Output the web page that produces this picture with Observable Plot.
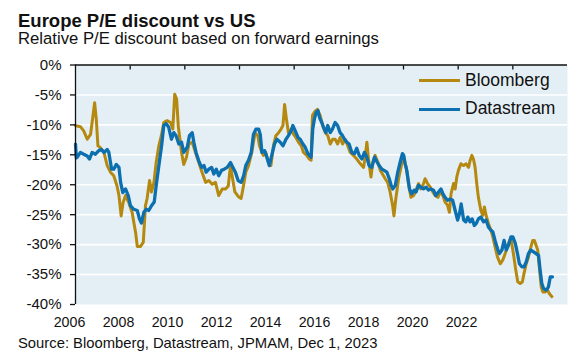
<!DOCTYPE html>
<html><head><meta charset="utf-8">
<script src="https://cdn.jsdelivr.net/npm/d3@7"></script>
<script src="https://cdn.jsdelivr.net/npm/@observablehq/plot@0.6"></script>
<style>
body{margin:0;background:#fff;font-family:"Liberation Sans",Arial,sans-serif;color:#111;}
#wrap{position:relative;width:578px;height:357px;overflow:hidden;}
.t{position:absolute;left:18px;line-height:1;white-space:nowrap;}
#title{top:11.6px;font-size:18.5px;font-weight:bold;}
#sub{top:30.6px;font-size:16.7px;}
#src{top:335.5px;font-size:14.8px;}
#chart{position:absolute;left:0;top:50px;}
#years{position:absolute;left:0;top:308px;}
.sw{position:absolute;left:419px;width:41px;height:3px;}
.lt{position:absolute;left:465px;font-size:17.5px;line-height:1;white-space:nowrap;}
</style></head>
<body>
<div id="wrap">
  <div id="title" class="t">Europe P/E discount vs US</div>
  <div id="sub" class="t">Relative P/E discount based on forward earnings</div>
  <div id="chart"></div>
  <div id="years"></div>
  <div id="legend"></div>
  <div id="src" class="t">Source: Bloomberg, Datastream, JPMAM, Dec 1, 2023</div>
</div>
<script>
const seriesNames = ["Bloomberg", "Datastream"];
const seriesColors = ["#b5890f", "#0b6fb0"];
const yTicks = [0, -5, -10, -15, -20, -25, -30, -35, -40];
const gridTicks = [-5, -10, -15, -20, -25, -30, -35];
const topTicks = [2008, 2010, 2012, 2014, 2016, 2018, 2020, 2022];
const yearLabels = ["2006", "2008", "2010", "2012", "2014", "2016", "2018", "2020", "2022"];

const bloombergDates = [2006.00,2006.06,2006.18,2006.30,2006.43,2006.55,2006.63,2006.70,2006.76,2006.82,2006.91,2007.04,2007.16,2007.28,2007.40,2007.52,2007.59,2007.67,2007.74,2007.83,2007.95,2008.07,2008.20,2008.26,2008.38,2008.48,2008.56,2008.62,2008.71,2008.78,2008.87,2008.95,2009.05,2009.15,2009.23,2009.35,2009.48,2009.56,2009.63,2009.70,2009.76,2009.82,2009.88,2009.96,2010.06,2010.15,2010.27,2010.39,2010.51,2010.63,2010.76,2010.88,2011.00,2011.12,2011.24,2011.37,2011.49,2011.59,2011.67,2011.73,2011.83,2011.96,2012.06,2012.15,2012.23,2012.33,2012.45,2012.57,2012.67,2012.73,2012.82,2012.88,2012.96,2013.06,2013.15,2013.24,2013.33,2013.43,2013.52,2013.59,2013.65,2013.71,2013.79,2013.89,2013.98,2014.06,2014.16,2014.26,2014.34,2014.46,2014.55,2014.62,2014.67,2014.77,2014.85,2014.95,2015.04,2015.14,2015.23,2015.32,2015.41,2015.50,2015.59,2015.68,2015.77,2015.87,2015.96,2016.05,2016.17,2016.29,2016.42,2016.54,2016.60,2016.66,2016.72,2016.81,2016.88,2016.96,2017.06,2017.15,2017.23,2017.33,2017.42,2017.51,2017.60,2017.65,2017.72,2017.82,2017.92,2018.00,2018.10,2018.18,2018.27,2018.37,2018.46,2018.55,2018.63,2018.71,2018.79,2018.88,2018.98,2019.07,2019.16,2019.26,2019.34,2019.44,2019.52,2019.61,2019.68,2019.74,2019.83,2019.89,2019.95,2020.01,2020.10,2020.20,2020.29,2020.38,2020.44,2020.50,2020.56,2020.62,2020.68,2020.74,2020.83,2020.90,2020.96,2021.02,2021.11,2021.20,2021.27,2021.35,2021.44,2021.54,2021.63,2021.72,2021.80,2021.88,2021.94,2022.02,2022.11,2022.18,2022.27,2022.35,2022.41,2022.49,2022.57,2022.66,2022.73,2022.79,2022.85,2022.91,2022.98,2023.04,2023.10,2023.18,2023.27,2023.34,2023.43];
const bloombergValues = [-10.1,-10.2,-10.3,-11.0,-12.4,-11.6,-8.8,-6.3,-9.0,-13.5,-13.8,-14.6,-16.8,-17.9,-18.5,-20.2,-21.8,-25.2,-23.0,-21.8,-23.0,-24.6,-28.0,-30.3,-30.3,-29.6,-23.5,-22.3,-19.3,-21.2,-19.6,-16.3,-13.5,-11.6,-9.6,-9.3,-9.6,-10.7,-4.9,-5.7,-10.2,-12.4,-14.6,-16.6,-15.4,-13.2,-12.9,-14.6,-16.3,-17.9,-19.6,-19.3,-19.9,-19.6,-21.8,-20.7,-20.7,-20.2,-16.8,-18.5,-21.2,-22.0,-22.3,-20.1,-17.9,-16.8,-14.6,-11.3,-11.8,-13.5,-14.6,-15.1,-14.6,-16.2,-16.8,-13.5,-11.8,-11.3,-10.7,-10.1,-6.6,-8.8,-11.3,-10.7,-11.6,-12.1,-12.9,-13.5,-14.6,-15.1,-15.7,-15.9,-8.4,-7.7,-7.4,-8.4,-10.1,-11.3,-11.8,-13.2,-12.4,-12.4,-13.2,-12.1,-13.2,-12.4,-13.5,-14.6,-15.1,-15.7,-16.5,-17.1,-15.4,-12.9,-15.7,-18.7,-16.2,-15.1,-16.2,-17.6,-18.2,-19.0,-19.6,-21.2,-23.4,-25.2,-22.3,-19.0,-16.8,-15.4,-17.1,-19.8,-22.1,-21.8,-20.9,-19.8,-20.7,-20.1,-19.0,-19.8,-20.4,-21.2,-21.8,-22.1,-21.2,-21.8,-22.9,-23.4,-24.6,-21.5,-19.8,-20.7,-18.7,-17.6,-16.5,-16.8,-16.5,-17.1,-15.9,-15.1,-15.7,-17.1,-19.8,-22.1,-24.3,-25.1,-23.7,-25.1,-26.5,-27.6,-28.7,-30.4,-32.1,-33.2,-32.6,-31.5,-30.4,-29.3,-29.3,-31.5,-34.3,-36.2,-36.5,-36.2,-34.8,-33.2,-32.1,-30.4,-29.3,-29.3,-30.1,-30.9,-34.3,-37.1,-37.9,-37.9,-37.6,-38.2,-38.7];

const datastreamDates = [2006.00,2006.03,2006.06,2006.18,2006.30,2006.43,2006.51,2006.61,2006.73,2006.85,2006.95,2007.04,2007.16,2007.22,2007.32,2007.40,2007.49,2007.59,2007.65,2007.73,2007.83,2007.93,2008.01,2008.13,2008.26,2008.34,2008.41,2008.50,2008.59,2008.68,2008.78,2008.88,2008.95,2009.05,2009.15,2009.23,2009.32,2009.41,2009.51,2009.60,2009.68,2009.78,2009.88,2009.96,2010.09,2010.17,2010.27,2010.33,2010.41,2010.51,2010.61,2010.70,2010.78,2010.88,2010.98,2011.06,2011.15,2011.24,2011.34,2011.44,2011.55,2011.67,2011.76,2011.85,2011.95,2012.06,2012.15,2012.23,2012.33,2012.43,2012.51,2012.60,2012.70,2012.76,2012.82,2012.92,2013.00,2013.09,2013.18,2013.28,2013.37,2013.49,2013.59,2013.70,2013.79,2013.89,2013.95,2014.04,2014.14,2014.22,2014.32,2014.40,2014.50,2014.56,2014.62,2014.68,2014.74,2014.81,2014.87,2014.93,2015.01,2015.10,2015.16,2015.23,2015.32,2015.40,2015.50,2015.59,2015.68,2015.77,2015.84,2015.93,2016.01,2016.11,2016.21,2016.29,2016.38,2016.48,2016.57,2016.66,2016.74,2016.84,2016.94,2017.03,2017.11,2017.21,2017.29,2017.39,2017.48,2017.55,2017.61,2017.70,2017.79,2017.88,2017.96,2018.01,2018.06,2018.12,2018.22,2018.30,2018.39,2018.46,2018.55,2018.63,2018.73,2018.83,2018.91,2019.00,2019.10,2019.18,2019.28,2019.37,2019.44,2019.52,2019.61,2019.71,2019.80,2019.89,2019.98,2020.05,2020.11,2020.20,2020.28,2020.35,2020.44,2020.51,2020.59,2020.66,2020.74,2020.83,2020.93,2021.02,2021.11,2021.20,2021.27,2021.35,2021.44,2021.51,2021.60,2021.68,2021.76,2021.84,2021.93,2022.00,2022.09,2022.17,2022.24,2022.33,2022.41,2022.49,2022.57,2022.66,2022.76,2022.85,2022.94,2023.00,2023.06,2023.12,2023.22,2023.30,2023.37,2023.45];
const datastreamValues = [-13.2,-15.5,-15.4,-14.6,-14.9,-15.2,-15.7,-14.6,-14.9,-14.3,-14.1,-14.6,-14.1,-14.6,-17.4,-17.4,-16.6,-17.1,-19.6,-21.3,-20.7,-21.8,-23.5,-24.1,-24.3,-25.7,-26.4,-24.6,-24.1,-24.3,-23.5,-22.9,-20.2,-16.8,-13.5,-10.1,-9.8,-10.4,-12.4,-11.3,-11.8,-13.2,-12.9,-14.6,-13.7,-11.8,-11.3,-12.9,-14.6,-16.0,-17.1,-16.8,-17.9,-17.4,-17.1,-18.2,-17.4,-18.5,-17.6,-17.4,-17.1,-16.3,-17.1,-17.9,-19.3,-19.6,-18.5,-16.8,-15.9,-14.6,-11.6,-10.7,-10.7,-11.6,-14.6,-14.3,-15.4,-16.8,-15.1,-13.2,-12.4,-12.9,-13.5,-12.4,-11.8,-11.0,-10.1,-11.0,-12.1,-12.4,-13.2,-13.7,-14.8,-15.1,-15.4,-10.7,-9.0,-7.9,-7.6,-8.8,-9.6,-10.7,-11.3,-10.1,-11.3,-10.7,-9.6,-10.1,-11.3,-11.8,-12.4,-12.9,-13.2,-14.6,-14.8,-13.9,-15.1,-15.7,-14.6,-15.4,-16.8,-17.1,-15.4,-16.2,-16.8,-17.4,-17.6,-17.9,-19.0,-20.1,-20.7,-20.1,-17.9,-16.2,-14.8,-15.1,-16.5,-17.6,-20.7,-21.5,-20.9,-21.2,-20.1,-20.4,-20.7,-20.4,-20.9,-20.7,-20.9,-21.8,-21.2,-20.7,-21.5,-22.1,-22.6,-22.4,-22.6,-24.3,-25.9,-24.8,-23.2,-25.9,-26.2,-25.4,-26.2,-25.7,-26.8,-26.5,-25.7,-25.4,-26.2,-25.9,-27.1,-27.6,-27.9,-29.3,-30.7,-31.5,-30.9,-29.3,-30.9,-30.1,-28.7,-28.7,-29.8,-31.5,-33.2,-33.7,-33.7,-32.9,-31.5,-30.9,-31.2,-31.5,-31.8,-34.3,-36.5,-37.3,-37.6,-37.1,-35.4,-35.4];

const bloombergRows = bloombergDates.map((d, i) => ({date: d, value: bloombergValues[i], series: seriesNames[0]}));
const datastreamRows = datastreamDates.map((d, i) => ({date: d, value: datastreamValues[i], series: seriesNames[1]}));

const font = '"Liberation Sans", Arial, sans-serif';

const chart = Plot.plot({
  width: 578, height: 256,
  marginTop: 14.5, marginBottom: 2, marginLeft: 75, marginRight: 11,
  style: {fontFamily: font, fontSize: "15px", color: "#111", background: "transparent", overflow: "visible"},
  x: {domain: [2006, 2024]},
  y: {domain: [-40, 0]},
  marks: [
    Plot.frame({fill: "#e4eff5", stroke: null}),
    Plot.gridY(gridTicks, {stroke: "#ffffff", strokeOpacity: 1, strokeWidth: 1.6}),
    Plot.line(bloombergRows, {x: "date", y: "value", stroke: seriesColors[0], strokeWidth: 3, strokeLinejoin: "round"}),
    Plot.line(datastreamRows, {x: "date", y: "value", stroke: seriesColors[1], strokeWidth: 3.3, strokeLinejoin: "round"}),
    Plot.ruleX([2006], {stroke: "#111", strokeWidth: 1.3}),
    Plot.ruleY([0], {stroke: "#111", strokeWidth: 1.3}),
    Plot.axisY({ticks: yTicks, tickSize: 5, tickPadding: 9, tickFormat: d => d + "%", label: null, fontSize: 15, stroke: "#111", strokeWidth: 1.3}),
    Plot.axisX({anchor: "top", ticks: topTicks, tickSize: -4, tickFormat: () => "", label: null, stroke: "#111", strokeWidth: 1.3})
  ]
});
document.getElementById("chart").appendChild(chart);

const years = Plot.plot({
  width: 578, height: 30,
  marginTop: 0, marginBottom: 30, marginLeft: 0, marginRight: 0,
  style: {fontFamily: font, fontSize: "14.2px", color: "#111", background: "transparent", overflow: "visible"},
  x: {type: "point", domain: yearLabels, range: [67.5, 463], padding: 0},
  marks: [
    Plot.axisX({tickSize: 0, tickPadding: 8.5, label: null, fontSize: 14.2})
  ]
});
document.getElementById("years").appendChild(years);

const legend = document.getElementById("legend");
const legendTops = [[78.5, 71.9], [107.5, 100.2]];
seriesNames.forEach((name, i) => {
  const sw = document.createElement("div");
  sw.className = "sw";
  sw.style.top = legendTops[i][0] + "px";
  sw.style.background = seriesColors[i];
  legend.appendChild(sw);
  const lt = document.createElement("div");
  lt.className = "lt";
  lt.style.top = legendTops[i][1] + "px";
  lt.textContent = name;
  legend.appendChild(lt);
});
</script>
</body></html>
